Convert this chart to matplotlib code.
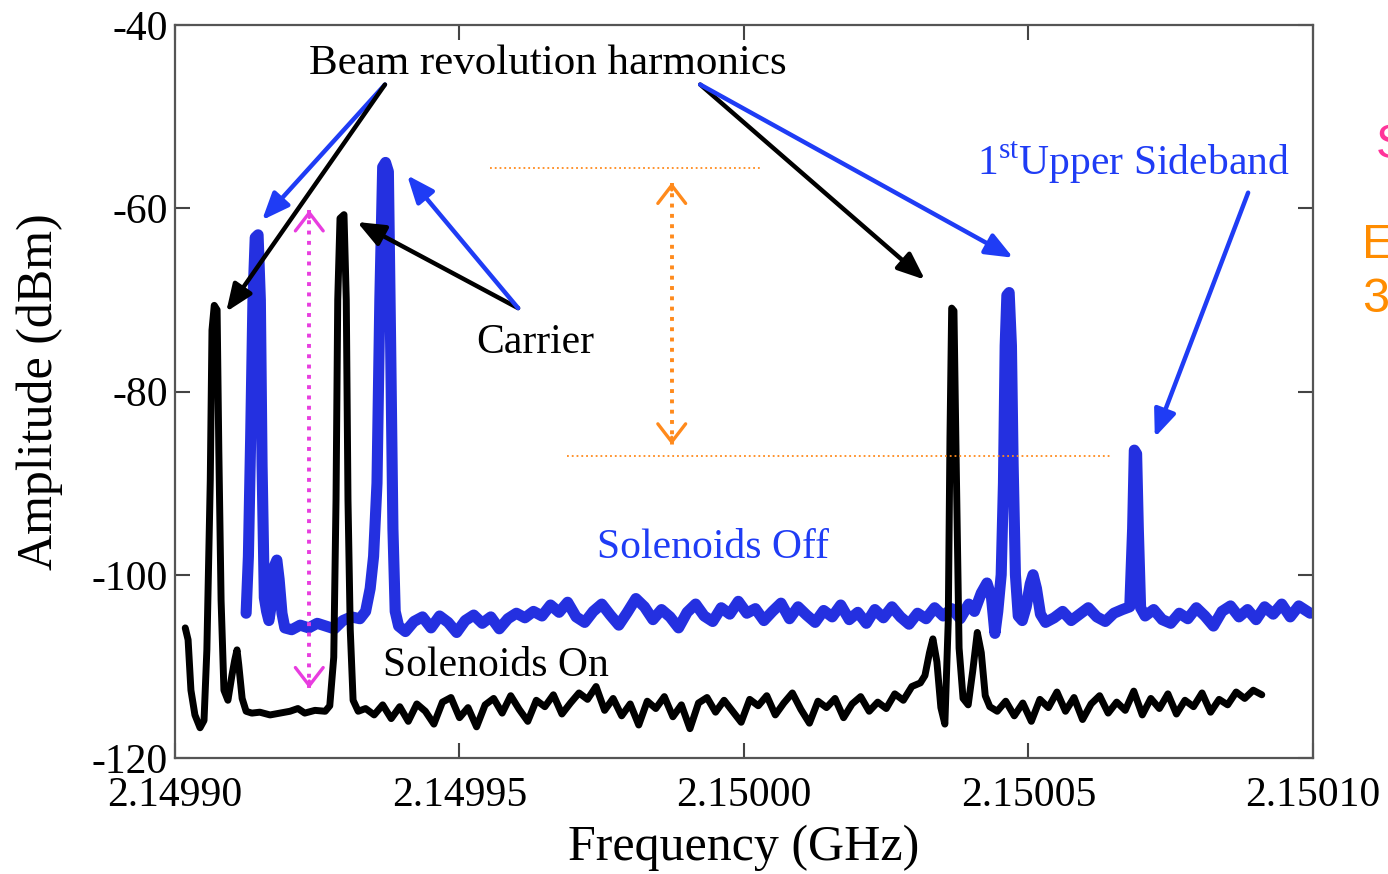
import numpy as np
import matplotlib
matplotlib.use("Agg")
import matplotlib.pyplot as plt

plt.rcParams['font.family'] = ['Liberation Serif', 'DejaVu Serif']
plt.rcParams['mathtext.fontset'] = 'custom'
plt.rcParams['mathtext.rm'] = 'Liberation Serif'
plt.rcParams['axes.unicode_minus'] = False

# frequencies are kept as kHz offsets from 2.14990 GHz, amplitudes in dBm
F0 = 2.14990

# Solenoids On (black trace)
on_left_khz = [1.8, 2.3, 2.8, 3.5, 4.4, 5.1, 5.6, 6.2, 6.5, 6.9,
               7.4, 7.7, 8.1, 8.6, 9.3, 10.0, 10.5, 10.9, 11.2, 11.8,
               12.5, 13.5, 14.9, 16.7, 18.5, 20.2, 21.6, 22.8, 24.6, 26.4,
               27.2, 27.9, 28.3, 28.6, 29.0, 29.7, 30.1, 30.4, 30.8, 31.3, 32.2]
on_left_db = [-105.8, -107.1, -112.6, -115.3, -116.7, -115.9, -108.2, -89.7, -73.3, -70.6,
              -71.1, -86.4, -102.8, -112.6, -113.7, -111.0, -109.3, -108.2, -109.8, -113.5,
              -114.9, -115.1, -115.0, -115.3, -115.1, -114.9, -114.6, -115.1, -114.8, -114.9,
              -114.3, -109.0, -91.8, -70.0, -61.1, -60.7, -70.0, -91.8, -106.0, -113.7, -114.9]

on_mid_khz = [33.5, 35.0, 36.5, 38.0, 39.5, 41.0, 42.5, 44.0, 45.5, 47.0,
              48.5, 50.0, 51.5, 53.0, 54.5, 56.0, 57.5, 59.0, 60.5, 62.0,
              63.5, 65.0, 66.5, 68.0, 69.5, 71.0, 72.5, 74.0, 75.5, 77.0,
              78.5, 80.0, 81.5, 83.0, 84.5, 86.0, 87.5, 89.0, 90.5, 92.0,
              93.5, 95.0, 96.5, 98.0, 99.5, 101.0, 102.5, 104.0, 105.5, 107.0,
              108.5, 110.0, 111.5, 113.0, 114.5, 116.0, 117.5, 119.0, 120.5, 122.0,
              123.5, 125.0, 126.5, 128.0, 129.5, 131.0]
on_mid_db = [-114.6, -115.3, -114.2, -115.7, -114.4, -116.0, -114.1, -114.9, -116.3, -113.9,
             -113.4, -115.6, -114.5, -116.6, -114.2, -113.5, -115.1, -113.2, -114.7, -116.0,
             -113.7, -114.4, -113.1, -115.2, -114.0, -112.9, -113.6, -112.2, -114.8, -113.5,
             -115.4, -114.1, -116.4, -113.8, -114.6, -113.3, -115.5, -114.2, -116.8, -114.0,
             -113.4, -115.0, -113.7, -114.9, -116.1, -113.6, -114.3, -113.2, -115.3, -114.0,
             -112.9, -114.7, -116.2, -113.8, -114.5, -113.5, -115.6, -114.1, -113.3, -114.9,
             -113.9, -114.6, -113.0, -113.7, -112.2, -111.8]

on_right_khz = [131.8, 132.6, 133.2, 133.9, 134.6, 135.3, 135.9, 136.2, 136.5, 136.9,
                137.3, 137.8, 138.5, 139.4, 140.2, 141.0, 141.7, 142.4, 143.2,
                144.5, 146.0, 147.5, 149.0, 150.5, 152.0, 153.5, 155.0, 156.5, 158.0,
                159.5, 161.0, 162.5, 164.0, 165.5, 167.0, 168.5, 170.0, 171.5, 173.0,
                174.5, 176.0, 177.5, 179.0, 180.5, 182.0, 183.5, 185.0, 186.5, 188.0,
                189.5, 191.0]
on_right_db = [-111.0, -108.5, -107.0, -109.5, -114.5, -116.3, -105.0, -85.0, -70.9, -71.2,
               -88.0, -108.0, -113.5, -114.2, -110.5, -106.3, -108.5, -113.2, -114.4,
               -114.9, -113.8, -115.4, -114.0, -116.0, -113.6, -114.5, -112.8, -114.9, -113.4,
               -115.8, -114.1, -113.2, -115.1, -113.9, -114.8, -112.7, -115.3, -113.5, -114.6,
               -113.0, -115.2, -113.7, -114.4, -112.9, -115.0, -113.6, -114.2, -112.8, -113.5,
               -112.6, -113.1]

# Solenoids Off (blue trace)
off_left_khz = [12.5, 12.9, 13.3, 13.7, 14.1, 14.6, 15.0, 15.3, 15.7, 16.1,
                16.5, 17.0, 17.5, 17.9, 18.3, 18.8, 19.3, 20.5, 22.0, 23.5,
                25.0, 26.5, 28.0, 29.5, 31.0, 32.5, 33.5, 34.3, 34.9, 35.5,
                36.0, 36.5, 37.0, 37.5, 37.9, 38.3, 38.7, 39.3]
off_left_db = [-104.2, -98.0, -85.0, -70.0, -63.2, -62.9, -70.0, -88.0, -102.5, -104.0,
               -105.0, -103.0, -99.0, -98.4, -100.5, -104.2, -105.8, -106.0, -105.5, -105.8,
               -105.3, -105.6, -105.9, -105.0, -104.6, -104.8, -104.0, -101.5, -98.0, -90.0,
               -70.0, -55.5, -55.0, -56.0, -75.0, -95.0, -104.0, -105.6]

off_mid_khz = [40.5, 42.0, 43.5, 45.0, 46.5, 48.0, 49.5, 51.0, 52.5, 54.0,
               55.5, 57.0, 58.5, 60.0, 61.5, 63.0, 64.5, 66.0, 67.5, 69.0,
               70.5, 72.0, 73.5, 75.0, 76.5, 78.0, 79.5, 81.0, 82.5, 84.0,
               85.5, 87.0, 88.5, 90.0, 91.5, 93.0, 94.5, 96.0, 97.5, 99.0,
               100.5, 102.0, 103.5, 105.0, 106.5, 108.0, 109.5, 111.0, 112.5, 114.0,
               115.5, 117.0, 118.5, 120.0, 121.5, 123.0, 124.5, 126.0, 127.5, 129.0,
               130.5, 132.0, 133.5, 135.0, 136.5, 138.0, 139.5]
off_mid_db = [-106.2, -105.1, -104.6, -105.8, -104.5, -105.2, -106.3, -105.0, -104.4, -105.3,
              -104.6, -105.9, -104.8, -104.2, -104.7, -104.0, -104.5, -103.3, -104.1, -103.0,
              -104.6, -105.2, -104.0, -103.2, -104.4, -105.5, -104.1, -102.6, -103.5, -104.9,
              -103.8, -104.6, -105.8, -104.1, -103.2, -104.5, -105.1, -103.6, -104.3, -102.9,
              -104.2, -103.7, -105.0, -104.0, -103.1, -104.8, -103.5, -104.4, -105.2, -103.9,
              -104.6, -103.3, -104.9, -104.1, -105.3, -103.8, -104.7, -103.5, -104.6, -105.4,
              -104.2, -104.8, -103.6, -104.5, -103.7, -104.8, -103.2]

off_right_khz = [140.5, 141.7, 142.7, 143.5, 144.1, 144.6, 145.2, 145.6, 145.9, 146.2,
                 146.6, 147.0, 147.3, 147.7, 148.2, 148.9, 149.6, 150.3, 150.8, 151.4,
                 152.1, 153.0, 154.5, 156.0, 157.5, 159.0, 160.5, 162.0, 163.5, 165.0,
                 166.5, 167.8, 168.3, 168.6, 169.0, 169.3, 169.7, 170.5, 172.0, 173.5,
                 175.0, 176.5, 178.0, 179.5, 181.0, 182.5, 184.0, 185.5, 187.0, 188.5,
                 190.0, 191.5, 193.0, 194.5, 196.0, 197.5, 199.0, 199.5]
off_right_db = [-104.0, -102.0, -100.9, -102.5, -106.4, -104.0, -100.0, -90.0, -75.0, -69.5,
                -69.2, -75.0, -88.0, -100.0, -104.5, -105.0, -103.5, -101.0, -100.0, -101.5,
                -104.3, -105.2, -104.7, -104.0, -105.0, -104.3, -103.6, -104.6, -105.1, -104.2,
                -103.8, -103.5, -95.0, -86.4, -86.8, -95.0, -103.6, -104.5, -103.8, -104.9,
                -105.3, -104.2, -104.8, -103.6, -104.5, -105.6, -104.0, -103.4, -104.6, -103.8,
                -104.9, -103.5, -104.3, -103.2, -104.6, -103.4, -104.0, -104.2]

x_ticks = [2.14990, 2.14995, 2.15000, 2.15005, 2.15010]
x_tick_labels = ["2.14990", "2.14995", "2.15000", "2.15005", "2.15010"]
y_ticks = [-40, -60, -80, -100, -120]
y_tick_labels = ["-40", "-60", "-80", "-100", "-120"]

BLUE = "#2430e0"
ARROW_BLUE = "#1f3cf5"
PINK = "#e83ddf"
ORANGE = "#ff8a1c"


def ghz(khz):
    return F0 + np.asarray(khz) * 1e-6


fig = plt.figure(figsize=(13.88, 8.74), dpi=100)
ax = fig.add_axes([175 / 1388, 1 - 758 / 874, 1138 / 1388, 733 / 874])

# traces
off_khz = np.concatenate([off_left_khz, off_mid_khz, off_right_khz])
off_db = np.concatenate([off_left_db, off_mid_db, off_right_db])
on_khz = np.concatenate([on_left_khz, on_mid_khz, on_right_khz])
on_db = np.concatenate([on_left_db, on_mid_db, on_right_db])

ax.plot(ghz(off_khz), off_db, color=BLUE, lw=8, solid_joinstyle="round", solid_capstyle="round")
ax.plot(ghz(on_khz), on_db, color="black", lw=5, solid_joinstyle="round", solid_capstyle="round")

ax.set_xlim(2.14990, 2.15010)
ax.set_ylim(-120, -40)
ax.set_xticks(x_ticks)
ax.set_xticklabels(x_tick_labels)
ax.set_yticks(y_ticks)
ax.set_yticklabels(y_tick_labels)
ax.tick_params(direction="in", length=11, width=1.5, top=True, right=True,
               labelsize=30, color="#444444", pad=5)
ax.tick_params(axis="x", pad=13)
for s in ax.spines.values():
    s.set_linewidth(1.6)
    s.set_color("#555555")

ax.set_xlabel("Frequency (GHz)", fontsize=36, va="center")
ax.xaxis.set_label_coords(0.5, (758 - 848) / 733)
ax.set_ylabel("Amplitude (dBm)", fontsize=36, va="center")
ax.yaxis.set_label_coords((40 - 175) / 1138, 0.5)


# arrows
def arrow(tail, tip, color):
    ax.annotate("", xy=(ghz(tip[0]), tip[1]), xytext=(ghz(tail[0]), tail[1]),
                arrowprops=dict(arrowstyle="-|>,head_length=1.1,head_width=0.45",
                                color=color, lw=3.2, shrinkA=0, shrinkB=0,
                                mutation_scale=15))


arrow((36.9, -46.5), (15.3, -61.3), ARROW_BLUE)
arrow((36.9, -46.5), (9.0, -71.3), "black")
arrow((92.3, -46.5), (131.8, -67.8), "black")
arrow((92.3, -46.5), (147.3, -65.4), ARROW_BLUE)
arrow((60.3, -70.9), (32.0, -61.5), "black")
arrow((60.3, -70.9), (40.8, -56.4), ARROW_BLUE)
arrow((188.6, -58.3), (172.2, -85.0), ARROW_BLUE)


def dbl_arrow(x_khz, y_top, y_bot, color):
    x = ghz(x_khz)
    ax.plot([x, x], [y_top, y_bot], color=color, lw=2.8, ls=":")
    for tip, dy in ((y_top, -0.8), (y_bot, 0.8)):
        ax.annotate("", xy=(x, tip), xytext=(x, tip + dy),
                    arrowprops=dict(arrowstyle="->,head_length=0.65,head_width=0.5",
                                    color=color, lw=2.4, shrinkA=0, shrinkB=0,
                                    mutation_scale=20))


dbl_arrow(23.6, -60.2, -112.4, PINK)
dbl_arrow(87.3, -57.2, -85.8, ORANGE)

# orange reference levels
ax.plot(ghz([55.4, 102.8]), [-55.6, -55.6], color=ORANGE, lw=1.3, ls=":")
ax.plot(ghz([68.9, 164.3]), [-87.0, -87.0], color=ORANGE, lw=1.3, ls=":")

# labels
ax.text(ghz(65.6), -44.2, "Beam revolution harmonics", fontsize=31, ha="center", va="center")
ax.text(ghz(63.3), -74.7, "Carrier", fontsize=30, ha="center", va="center")
ax.text(ghz(168.5), -55.0, r"1$^{\rm st}$Upper Sideband", fontsize=30, ha="center",
        va="center", color=ARROW_BLUE)
ax.text(ghz(94.6), -97.0, "Solenoids Off", fontsize=30, ha="center", va="center", color=ARROW_BLUE)
ax.text(ghz(56.4), -109.9, "Solenoids On", fontsize=30, ha="center", va="center")

# clipped text from the slide at the right edge
fig.text(1376 / 1388, 1 - 145 / 874, "S", fontsize=35, color="#ff3399",
         family="Liberation Sans", va="center", ha="left")
fig.text(1362 / 1388, 1 - 245 / 874, "E", fontsize=35, color="#ff8c00",
         family="Liberation Sans", va="center", ha="left")
fig.text(1362 / 1388, 1 - 300 / 874, "3", fontsize=35, color="#ff8c00",
         family="Liberation Sans", va="center", ha="left")

fig.savefig("out.png", dpi=100)
